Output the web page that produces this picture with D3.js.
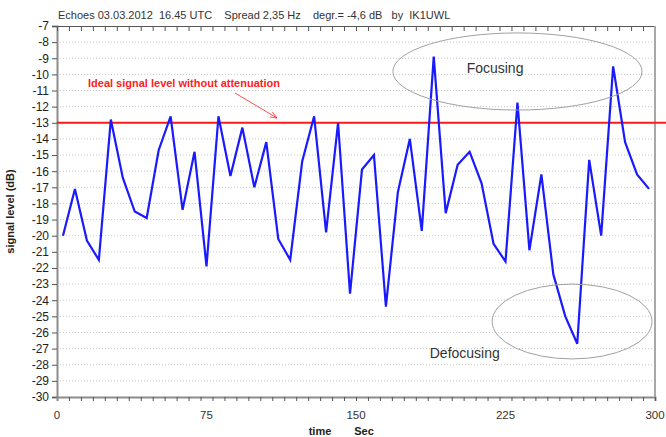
<!DOCTYPE html>
<html>
<head>
<meta charset="utf-8">
<script src="https://cdn.jsdelivr.net/npm/d3@7"></script>
<style>
  body { margin: 0; background: #fff; }
  svg { display: block; font-family: "Liberation Sans", Arial, sans-serif; }
</style>
</head>
<body>
<svg id="chart" width="666" height="437"></svg>
<script>
// time (s) of each 6 s sample
var times = [3, 9, 15, 21, 27, 33, 39, 45, 51, 57,
             63, 69, 75, 81, 87, 93, 99, 105, 111, 117,
             123, 129, 135, 141, 147, 153, 159, 165, 171, 177,
             183, 189, 195, 201, 207, 213, 219, 225, 231, 237,
             243, 249, 255, 261, 267, 273, 279, 285, 291, 297];
// signal level (dB)
var levels = [-20.0, -17.1, -20.3, -21.5, -12.8, -16.4, -18.5, -18.9, -14.7, -12.6,
              -18.4, -14.8, -21.9, -12.6, -16.3, -13.3, -17.0, -14.2, -20.2, -21.5,
              -15.4, -12.6, -19.8, -13.0, -23.6, -15.9, -15.0, -24.4, -17.3, -14.0,
              -19.7, -8.9, -18.6, -15.6, -14.8, -16.75, -20.5, -21.6, -11.75, -20.9,
              -16.2, -22.4, -25.0, -26.7, -15.3, -20.0, -9.5, -14.2, -16.2, -17.1];
var xTickLabels = [0, 75, 150, 225, 300];
var idealLevel = -13;
// annotation ellipses, in data units
var ellipses = [
    { label: "Focusing", t: 231, v: -9.82, rt: 62.5, rv: 2.39, lt: 205.5, lv: -9.9 },
    { label: "Defocusing", t: 258.4, v: -25.32, rt: 40.1, rv: 2.32, lt: 187, lv: -27.6 }
];

var margin = { top: 26, right: 11, bottom: 40, left: 57 },
    width = 666 - margin.left - margin.right,
    height = 437 - margin.top - margin.bottom;

var svg = d3.select('#chart');
var g = svg.append('g').attr('transform', 'translate(' + margin.left + ',' + margin.top + ')');

var x = d3.scaleLinear().domain([0, 300]).range([0, width]);
var y = d3.scaleLinear().domain([-30, -7]).range([height, 0]);

// grid lines
g.append('g')
    .selectAll('line')
    .data(d3.range(-29, -7))
    .enter().append('line')
    .attr('x1', 0).attr('x2', width)
    .attr('y1', function(d) { return y(d); })
    .attr('y2', function(d) { return y(d); })
    .attr('stroke', '#c8c8c8')
    .attr('stroke-dasharray', '1,2');

// y axis
var yAxis = g.append('g')
    .call(d3.axisLeft(y).tickValues(d3.range(-30, -6)).tickSize(5).tickPadding(3).tickFormat(d3.format('d')));
yAxis.select('.domain').attr('stroke', '#8c8c8c').attr('stroke-width', 2);
yAxis.selectAll('.tick line').attr('stroke', '#555');
yAxis.selectAll('text').attr('font-size', 12).attr('fill', '#222')
    .text(function(d) { return String(d); });

// bottom axis: ticks every sample boundary
var xAxis = g.append('g')
    .attr('transform', 'translate(0,' + height + ')')
    .call(d3.axisBottom(x).tickValues(d3.range(6, 301, 6)).tickSize(4).tickFormat(''));
xAxis.select('.domain').attr('stroke', '#8c8c8c').attr('stroke-width', 2);
xAxis.selectAll('.tick line').attr('stroke', '#555');

g.append('g')
    .selectAll('text')
    .data(xTickLabels)
    .enter().append('text')
    .attr('x', function(d) { return x(d); })
    .attr('y', height + 22)
    .attr('text-anchor', 'middle')
    .attr('font-size', 11.5)
    .attr('fill', '#333')
    .text(function(d) { return d; });

// top border with inner ticks
var topAxis = g.append('g')
    .call(d3.axisTop(x).tickValues(d3.range(6, 300, 6)).tickSize(-5).tickFormat(''));
topAxis.select('.domain').attr('stroke', '#555').attr('stroke-width', 1);
topAxis.selectAll('.tick line').attr('stroke', '#555');

// right border
g.append('line')
    .attr('x1', width).attr('x2', width)
    .attr('y1', 0).attr('y2', height)
    .attr('stroke', '#a8a8a8').attr('stroke-width', 2);

// ideal level line
g.append('line')
    .attr('x1', 0).attr('x2', width + margin.right)
    .attr('y1', y(idealLevel)).attr('y2', y(idealLevel))
    .attr('stroke', '#ff1a1a').attr('stroke-width', 2);

// signal line
var line = d3.line()
    .x(function(d, i) { return x(times[i]); })
    .y(function(d) { return y(d); });
g.append('path')
    .datum(levels)
    .attr('d', line)
    .attr('fill', 'none')
    .attr('stroke', '#1a1aff')
    .attr('stroke-width', 2.2)
    .attr('stroke-linejoin', 'miter');

// ellipses + labels
ellipses.forEach(function(e) {
    g.append('ellipse')
        .attr('cx', x(e.t)).attr('cy', y(e.v))
        .attr('rx', x(e.rt) - x(0)).attr('ry', y(-30) - y(-30 + e.rv))
        .attr('fill', 'none')
        .attr('stroke', '#a0a0a0')
        .attr('stroke-width', 1);
    g.append('text')
        .attr('x', x(e.lt)).attr('y', y(e.lv))
        .attr('font-size', 14)
        .attr('fill', '#333')
        .text(e.label);
});

// red annotation
svg.append('text')
    .attr('x', 88).attr('y', 87)
    .attr('font-size', 11)
    .attr('font-weight', 'bold')
    .attr('fill', '#ff2020')
    .text('Ideal signal level without attenuation');
svg.append('defs').append('marker')
    .attr('id', 'arrow')
    .attr('viewBox', '0 0 10 10')
    .attr('refX', 10).attr('refY', 5)
    .attr('markerWidth', 9).attr('markerHeight', 9)
    .attr('orient', 'auto')
    .append('path')
    .attr('d', 'M0,1 L10,5 L0,9')
    .attr('fill', 'none')
    .attr('stroke', '#ff2020')
    .attr('stroke-width', 1);
svg.append('line')
    .attr('x1', 235).attr('y1', 93)
    .attr('x2', 277).attr('y2', 118)
    .attr('stroke', '#ff2020')
    .attr('stroke-width', 0.8)
    .attr('marker-end', 'url(#arrow)');

// titles
svg.append('text')
    .attr('x', 58).attr('y', 19)
    .attr('font-size', 11)
    .attr('fill', '#333')
    .attr('xml:space', 'preserve')
    .style('white-space', 'pre')
    .text('Echoes 03.03.2012  16.45 UTC    Spread 2,35 Hz    degr.= -4,6 dB   by  IK1UWL');

svg.append('text')
    .attr('transform', 'translate(14,' + (margin.top + y(-18.5)) + ') rotate(-90)')
    .attr('text-anchor', 'middle')
    .attr('font-size', 11)
    .attr('font-weight', 'bold')
    .attr('fill', '#222')
    .text('signal level (dB)');

svg.append('text')
    .attr('x', 320).attr('y', 435)
    .attr('text-anchor', 'middle')
    .attr('font-size', 11)
    .attr('font-weight', 'bold')
    .attr('fill', '#222')
    .text('time');
svg.append('text')
    .attr('x', 364).attr('y', 435)
    .attr('text-anchor', 'middle')
    .attr('font-size', 11)
    .attr('font-weight', 'bold')
    .attr('fill', '#222')
    .text('Sec');
</script>
</body>
</html>
